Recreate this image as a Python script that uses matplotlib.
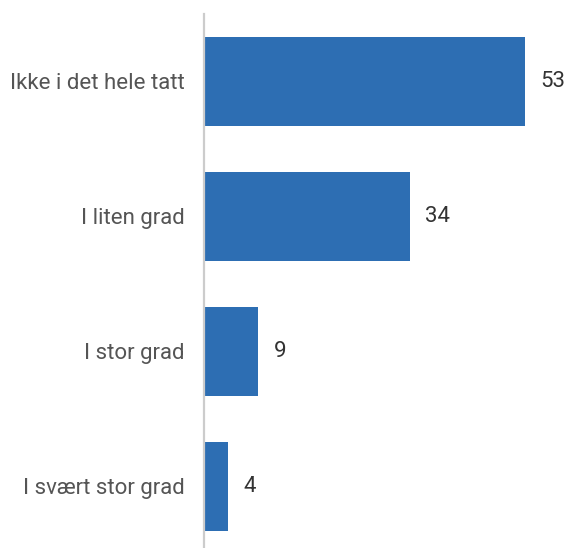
import matplotlib.pyplot as plt

categories = ["Ikke i det hele tatt", "I liten grad", "I stor grad", "I svært stor grad"]
values = [53, 34, 9, 4]

plt.rcParams["font.family"] = ["Roboto", "DejaVu Sans"]
text_color = "#555555"
bar_color = "#2D6EB3"

fig = plt.figure(figsize=(5.67, 5.48), dpi=100)
ax = fig.add_axes([204 / 567, 0, 363 / 567, 534 / 548])

pos = list(range(len(categories)))
bars = ax.barh(pos, values, height=0.66, color=bar_color)
ax.set_xlim(0, 60)
ax.set_ylim(3.456, -0.5)

for b, v in zip(bars, values):
    ax.annotate(str(v), (b.get_width(), b.get_y() + b.get_height() / 2),
                xytext=(11, 0), textcoords="offset points",
                va="center", ha="left", fontsize=16, color="#333333")

ax.set_yticks(pos)
ax.set_yticklabels(categories, fontsize=16, color=text_color)
ax.tick_params(axis="y", length=0, pad=14)
ax.set_xticks([])
for s in ["top", "right", "bottom"]:
    ax.spines[s].set_visible(False)
ax.spines["left"].set_color("#cccccc")
ax.spines["left"].set_linewidth(1.6)

plt.savefig("out.png", dpi=100)
